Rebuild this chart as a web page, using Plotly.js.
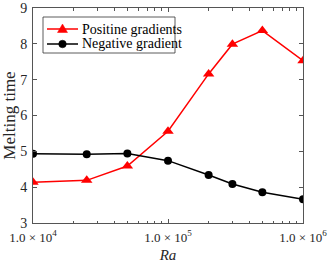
<!DOCTYPE html>
<html><head><meta charset="utf-8">
<script src="https://cdn.plot.ly/plotly-3.0.1.min.js"></script>
<style>html,body{margin:0;padding:0;background:#fff}</style>
</head><body>
<div id="chart" style="width:332px;height:265px"></div>
<script>
const ra = [1e4, 2.5e4, 5e4, 1e5, 2e5, 3e5, 5e5, 1e6];
const positive = [4.14, 4.19, 4.59, 5.56, 7.16, 7.99, 8.37, 7.53];
const negative = [4.93, 4.92, 4.94, 4.74, 4.34, 4.09, 3.86, 3.66];
const seriesNames = ['Positine gradients', 'Negative gradient'];
const xTickVals = [1e4, 1e5, 1e6];
const xTickText = ['1.0 × 10<sup>4</sup>', '1.0 × 10<sup>5</sup>', '1.0 × 10<sup>6</sup>'];
const yTickVals = [3, 4, 5, 6, 7, 8, 9];
const minorVals = [];
[1e4, 1e5].forEach(d => { for (let k = 2; k <= 9; k++) minorVals.push(k * d); });

const FAM = '"Liberation Serif", "DejaVu Serif", serif';
const TXT = '#262626';
const AX = '#555';
const colors = ['#ff0000', '#000000'];

const traces = [
  {x: ra, y: positive, name: seriesNames[0], type: 'scatter', mode: 'lines+markers', showlegend: false,
   line: {color: colors[0], width: 1.5}, marker: {symbol: 'triangle-up', size: 10, color: colors[0]}},
  {x: ra, y: negative, name: seriesNames[1], type: 'scatter', mode: 'lines+markers', showlegend: false,
   line: {color: colors[1], width: 1.5}, marker: {symbol: 'circle', size: 8, color: colors[1]}}
];

// custom legend (paper coordinates of plot area: 270 x 215 px)
const PW = 270, PH = 215;
const px = v => v / PW, py = v => v / PH;
const legBox = {x0: px(10), x1: px(142), y0: 1 - py(45), y1: 1 - py(9)};
const rowY = [1 - py(21), 1 - py(36)];
const lineX0 = px(14), lineX1 = px(45), markX = px(29.5), textX = px(46.5);
const shapes = [
  {type: 'rect', xref: 'paper', yref: 'paper', ...legBox, fillcolor: '#fff', line: {color: '#333', width: 0.8}, layer: 'above'}
];
const annotations = [];
seriesNames.forEach((nm, i) => {
  shapes.push({type: 'line', xref: 'paper', yref: 'paper', x0: lineX0, x1: lineX1, y0: rowY[i], y1: rowY[i],
               line: {color: colors[i], width: 1.5}, layer: 'above'});
  if (i === 0) {
    shapes.push({type: 'path', xref: 'paper', yref: 'paper', xsizemode: 'pixel', ysizemode: 'pixel',
                 xanchor: markX, yanchor: rowY[i], path: 'M -5 -3.5 L 5 -3.5 L 0 5 Z',
                 fillcolor: colors[i], line: {color: colors[i], width: 0.5}, layer: 'above'});
  } else {
    shapes.push({type: 'circle', xref: 'paper', yref: 'paper', xsizemode: 'pixel', ysizemode: 'pixel',
                 xanchor: markX, yanchor: rowY[i], x0: -3.8, x1: 3.8, y0: -3.8, y1: 3.8,
                 fillcolor: colors[i], line: {color: colors[i], width: 0.5}, layer: 'above'});
  }
  annotations.push({xref: 'paper', yref: 'paper', x: textX, y: rowY[i], xanchor: 'left', yanchor: 'middle',
                    text: nm, showarrow: false, font: {family: FAM, size: 14, color: '#000'}});
});

const layout = {
  width: 332, height: 265,
  margin: {l: 33, r: 29, t: 8, b: 42},
  paper_bgcolor: '#fff', plot_bgcolor: '#fff',
  font: {family: FAM, size: 13, color: TXT},
  showlegend: false,
  shapes: shapes,
  annotations: annotations,
  xaxis: {type: 'log', range: [4, 6], tickmode: 'array', tickvals: xTickVals, ticktext: xTickText,
          ticks: 'inside', ticklen: 4, tickcolor: AX, showline: true, linecolor: AX, linewidth: 1,
          mirror: 'ticks', showgrid: false, zeroline: false, ticklabelstandoff: 2,
          minor: {tickmode: 'array', tickvals: minorVals, ticks: 'inside', ticklen: 2.5, tickcolor: AX},
          title: {text: '<i>Ra</i>', font: {family: FAM, size: 15, color: TXT}, standoff: 5},
          tickfont: {family: FAM, size: 13, color: TXT}},
  yaxis: {range: [3, 9], tickmode: 'array', tickvals: yTickVals, ticks: 'inside', ticklen: 4, tickcolor: AX,
          showline: true, linecolor: AX, linewidth: 1, mirror: 'ticks', showgrid: false, zeroline: false,
          ticklabelstandoff: 2,
          title: {text: 'Melting time', font: {family: FAM, size: 17, color: TXT}, standoff: 2},
          tickfont: {family: FAM, size: 14, color: TXT}}
};
Plotly.newPlot('chart', traces, layout, {displayModeBar: false, staticPlot: true});
</script>
</body></html>
